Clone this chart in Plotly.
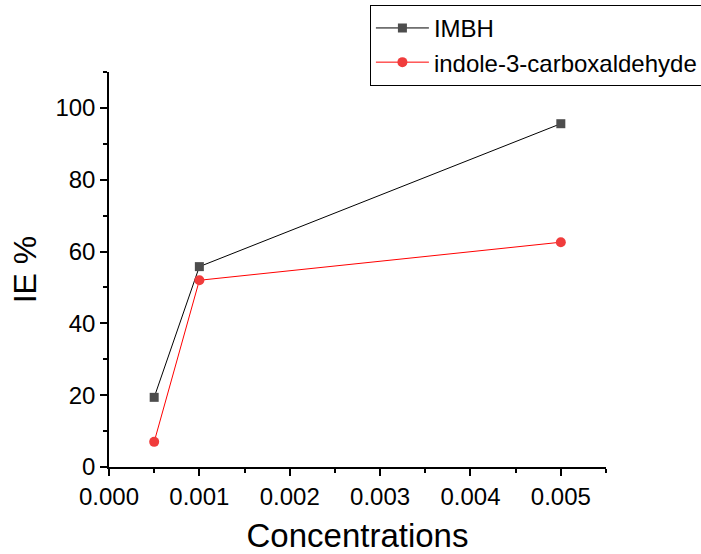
import plotly.graph_objects as go

concentrations = [0.0005, 0.001, 0.005]
imbh_ie = [19.4, 55.8, 95.6]
indole_ie = [7.0, 52.0, 62.6]
x_ticks = [0.000, 0.001, 0.002, 0.003, 0.004, 0.005]
x_tick_labels = ["0.000", "0.001", "0.002", "0.003", "0.004", "0.005"]
y_ticks = [0, 20, 40, 60, 80, 100]

fig = go.Figure()
fig.add_trace(go.Scatter(
    x=concentrations, y=imbh_ie, name="IMBH", mode="lines+markers",
    line=dict(color="#000000", width=1),
    marker=dict(symbol="square", size=9, color="#4d4d4d"),
))
fig.add_trace(go.Scatter(
    x=concentrations, y=indole_ie, name="indole-3-carboxaldehyde", mode="lines+markers",
    line=dict(color="#ff0000", width=1),
    marker=dict(symbol="circle", size=10, color="#f03c3c"),
))

axis_font = dict(family="Liberation Sans, Arial, sans-serif", size=24, color="#000000")
fig.update_layout(
    width=701, height=554,
    margin=dict(l=109, r=95, t=71.5, b=87, autoexpand=False),
    paper_bgcolor="white", plot_bgcolor="white",
    font=dict(family="Liberation Sans, Arial, sans-serif", color="#000000"),
    showlegend=True,
    legend=dict(
        x=1.195, y=1.17, xanchor="right", yanchor="top",
        bordercolor="#000000", borderwidth=1, bgcolor="white",
        font=dict(size=24, color="#000000"),
        itemwidth=53, tracegroupgap=0,
    ),
    xaxis=dict(
        range=[0, 0.0055], tickvals=x_ticks, ticktext=x_tick_labels,
        showline=True, linecolor="#000000", linewidth=1.5,
        ticks="outside", ticklen=7, tickwidth=1.5, tickcolor="#000000",
        minor=dict(dtick=0.0005, ticks="outside", ticklen=4, tickwidth=1.5, tickcolor="#000000", showgrid=False),
        showgrid=False, zeroline=False, tickfont=axis_font, automargin=False,
        title=dict(text="Concentrations", font=dict(size=33), standoff=22),
        mirror=False,
    ),
    yaxis=dict(
        range=[0, 110], tickvals=y_ticks,
        showline=True, linecolor="#000000", linewidth=1.5,
        ticks="outside", ticklen=7, tickwidth=1.5, tickcolor="#000000",
        minor=dict(dtick=10, ticks="outside", ticklen=4, tickwidth=1.5, tickcolor="#000000", showgrid=False),
        showgrid=False, zeroline=False, tickfont=axis_font, automargin=False,
        title=dict(text="IE %", font=dict(size=32), standoff=9),
        mirror=False,
    ),
)

fig.write_html("out.html")
